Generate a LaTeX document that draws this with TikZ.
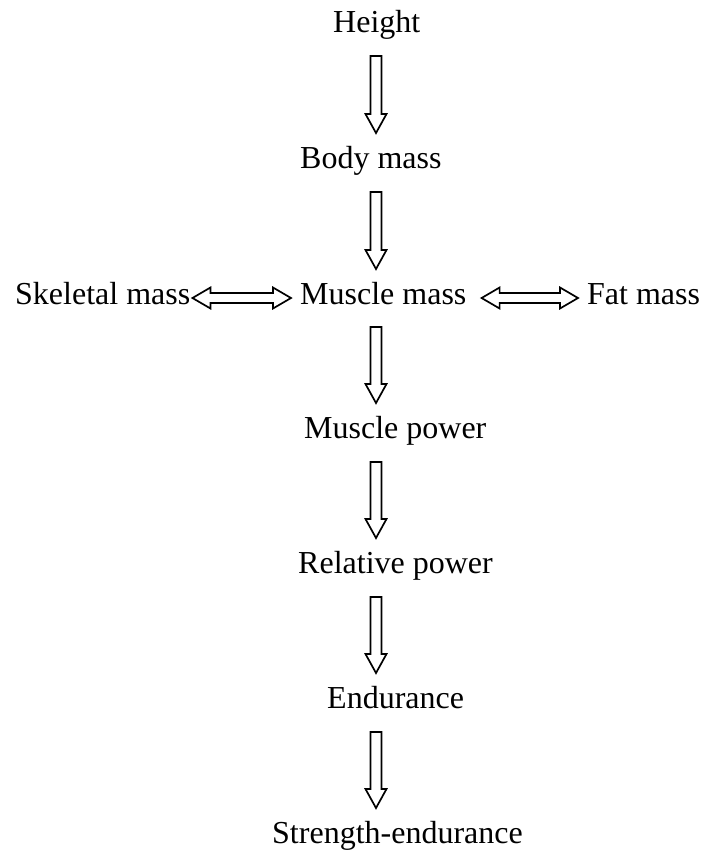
\documentclass[tikz,border=0pt]{standalone}
\usepackage{fontspec}
\setmainfont{Liberation Serif}
\usetikzlibrary{calc}
\tikzset{
  lbl/.style={inner sep=0pt, anchor=base west, font=\fontsize{32}{38}\selectfont},
  hollowdown/.style={line width=1.7pt, line join=miter, miter limit=10,
    to path={([xshift=-5.5pt]\tikztostart) -- ([xshift=-5.5pt,yshift=19pt]\tikztotarget)
      -- ([xshift=-10.5pt,yshift=19pt]\tikztotarget) -- (\tikztotarget)
      -- ([xshift=10.5pt,yshift=19pt]\tikztotarget) -- ([xshift=5.5pt,yshift=19pt]\tikztotarget)
      -- ([xshift=5.5pt]\tikztostart) -- cycle}},
  hollowboth/.style={line width=1.7pt, line join=miter, miter limit=10,
    to path={(\tikztostart) -- ([xshift=18pt,yshift=10.5pt]\tikztostart)
      -- ([xshift=18pt,yshift=5pt]\tikztostart) -- ([xshift=-18pt,yshift=5pt]\tikztotarget)
      -- ([xshift=-18pt,yshift=10.5pt]\tikztotarget) -- (\tikztotarget)
      -- ([xshift=-18pt,yshift=-10.5pt]\tikztotarget) -- ([xshift=-18pt,yshift=-5pt]\tikztotarget)
      -- ([xshift=18pt,yshift=-5pt]\tikztostart) -- ([xshift=18pt,yshift=-10.5pt]\tikztostart)
      -- cycle}}
}
\begin{document}
\begin{tikzpicture}[x=1pt,y=1pt]
  \useasboundingbox (0,0) rectangle (704,-855);
  \coordinate (axis) at (376,0);
  \node[lbl] (H)  at (333,-32)  {Height};
  \node[lbl] (B)  at (300,-168) {Body mass};
  \node[lbl] (S)  at (15,-304)  {Skeletal mass};
  \node[lbl] (MM) at (300,-304) {Muscle mass};
  \node[lbl] (F)  at (587,-304) {Fat mass};
  \node[lbl] (MP) at (304,-438) {Muscle power};
  \node[lbl] (RP) at (298,-573) {Relative power};
  \node[lbl] (E)  at (327,-708) {Endurance};
  \node[lbl] (SE) at (272,-843) {Strength-endurance};

  % vertical arrow ends
  \coordinate (a1s) at ($(axis |- H.base)+(0,-24)$);
  \coordinate (a1e) at ($(axis |- B.base)+(0,35)$);
  \coordinate (a2s) at ($(axis |- B.base)+(0,-24)$);
  \coordinate (a2e) at ($(axis |- MM.base)+(0,35)$);
  \coordinate (a3s) at ($(axis |- MM.base)+(0,-23)$);
  \coordinate (a3e) at ($(axis |- MP.base)+(0,35)$);
  \coordinate (a4s) at ($(axis |- MP.base)+(0,-24)$);
  \coordinate (a4e) at ($(axis |- RP.base)+(0,35)$);
  \coordinate (a5s) at ($(axis |- RP.base)+(0,-24)$);
  \coordinate (a5e) at ($(axis |- E.base)+(0,35)$);
  \coordinate (a6s) at ($(axis |- E.base)+(0,-24)$);
  \coordinate (a6e) at ($(axis |- SE.base)+(0,35)$);

  \draw[hollowdown] (a1s) to (a1e);
  \draw[hollowdown] (a2s) to (a2e);
  \draw[hollowdown] (a3s) to (a3e);
  \draw[hollowdown] (a4s) to (a4e);
  \draw[hollowdown] (a5s) to (a5e);
  \draw[hollowdown] (a6s) to (a6e);

  % horizontal double arrows
  \coordinate (h1s) at ($(S.base east)+(2,6)$);
  \coordinate (h1e) at ($(MM.base west)+(-9,6)$);
  \coordinate (h2s) at ($(MM.base east)+(15,6)$);
  \coordinate (h2e) at ($(F.base west)+(-9,6)$);
  \draw[hollowboth] (h1s) to (h1e);
  \draw[hollowboth] (h2s) to (h2e);
\end{tikzpicture}
\end{document}
